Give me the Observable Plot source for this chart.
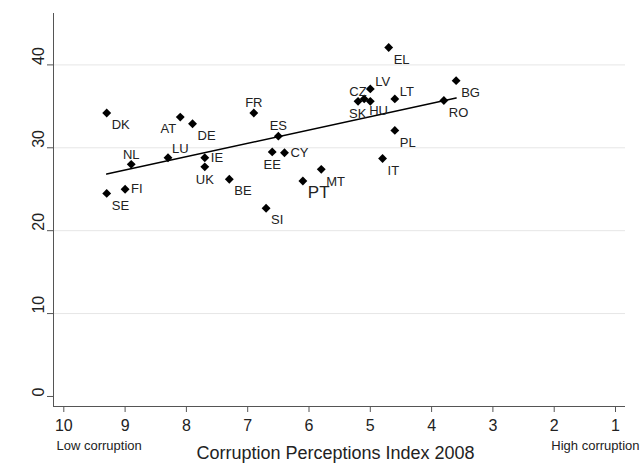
<!DOCTYPE html>
<html><head><meta charset="utf-8">
<script src="https://cdn.jsdelivr.net/npm/d3@7"></script>
<script src="https://cdn.jsdelivr.net/npm/@observablehq/plot@0.6"></script>
<style>body{margin:0;background:#fff} svg{display:block}</style>
</head><body><div id="chart"></div>
<script>
// Country codes, CPI 2008 (x) and indicator value (y)
const codes  = ["DK","SE","FI","NL","LU","AT","DE","IE","UK","BE","FR","ES","EE","CY","SI","PT","MT","IT","PL","EL","LV","LT","CZ","HU","SK","BG","RO"];
const cpi    = [9.3, 9.3, 9.0, 8.9, 8.3, 8.1, 7.9, 7.7, 7.7, 7.3, 6.9, 6.5, 6.6, 6.4, 6.7, 6.1, 5.8, 4.8, 4.6, 4.7, 5.0, 4.6, 5.2, 5.1, 5.0, 3.6, 3.8];
const values = [34.2,24.5,25.0,28.0,28.8,33.7,32.9,28.8,27.7,26.2,34.2,31.4,29.5,29.4,22.7,26.0,27.4,28.7,32.1,42.1,37.1,35.9,35.6,35.9,35.6,38.1,35.7];
const xTicks = [10,9,8,7,6,5,4,3,2,1];
const yTicks = [0,10,20,30,40];
const gridTicks = [10,20,30,40];
const xTitle = "Corruption Perceptions Index 2008";
const lowNote = "Low corruption";
const highNote = "High corruption";

// marker-label clock positions (style)
const labelPos = {DK:4,SE:4,FI:3,NL:12,LU:1,AT:7,DE:4,IE:3,UK:6,BE:4,FR:12,ES:12,EE:6,CY:3,SI:4,PT:4,MT:4,IT:4,PL:4,EL:4,LV:2,LT:2,CZ:12,HU:4,SK:7,BG:4,RO:4};
const offsets = {
  1:  {dx:4,  dy:-9,  textAnchor:"start"},
  2:  {dx:5,  dy:-7,  textAnchor:"start"},
  3:  {dx:6,  dy:0,   textAnchor:"start"},
  4:  {dx:5,  dy:12,  textAnchor:"start"},
  6:  {dx:0,  dy:13,  textAnchor:"middle"},
  7:  {dx:-4, dy:12,  textAnchor:"end"},
  12: {dx:0,  dy:-10, textAnchor:"middle"}
};

const data = codes.map((c, i) => ({code: c, cpi: cpi[i], value: values[i], pos: labelPos[c]}));

const X0 = 10.168, X1 = 0.837, Y0 = -1.21, Y1 = 46.2;

const chart = Plot.plot({
  width: 643, height: 467,
  marginLeft: 53, marginRight: 18, marginTop: 13, marginBottom: 61,
  x: {domain: [X0, X1], label: null},
  y: {domain: [Y0, Y1], label: null},
  style: {fontFamily: "'Liberation Sans', Arial, Helvetica, sans-serif", background: "#fff", color: "#222"},
  marks: [
    Plot.ruleY(gridTicks, {x1: X0, x2: X1, stroke: "#e6e6e6", strokeWidth: 1}),
    Plot.ruleX([X0], {y1: Y0, y2: Y1, stroke: "#555"}),
    Plot.ruleY([Y0], {x1: X0, x2: X1, stroke: "#555"}),
    Plot.axisY({ticks: yTicks, tickSize: 6, tickFormat: () => "", label: null, stroke: "#555"}),
    Plot.text(yTicks, {y: d => d, frameAnchor: "left", dx: -15, rotate: -90, text: d => String(d), fontSize: 16, fill: "#222"}),
    Plot.axisX({ticks: xTicks, tickSize: 6, tickPadding: 7, fontSize: 16, label: null, stroke: "#555", fill: "#222"}),
    Plot.linearRegressionY(data, {x: "cpi", y: "value", stroke: "black", strokeWidth: 1.5, ci: 0}),
    Plot.dot(data, {x: "cpi", y: "value", symbol: "diamond2", r: 4, fill: "black", stroke: null}),
    ...Object.entries(offsets).map(([p, o]) => Plot.text(data.filter(d => d.pos === +p), {
      x: "cpi", y: "value", text: "code", dx: o.dx, dy: o.dy, textAnchor: o.textAnchor,
      fontSize: d => d.code === "PT" ? 17 : 13, fill: "#222"
    })),
    Plot.text([lowNote], {text: d => d, frameAnchor: "bottom-left", dx: 3, dy: 43, textAnchor: "start", fontSize: 13, fill: "#222"}),
    Plot.text([highNote], {text: d => d, frameAnchor: "bottom-right", dx: 14, dy: 43, textAnchor: "end", fontSize: 13, fill: "#222"}),
    Plot.text([xTitle], {text: d => d, frameAnchor: "bottom", dx: -4, dy: 52, fontSize: 18, fill: "#222"})
  ]
});
document.getElementById("chart").append(chart);
</script>
</body></html>
